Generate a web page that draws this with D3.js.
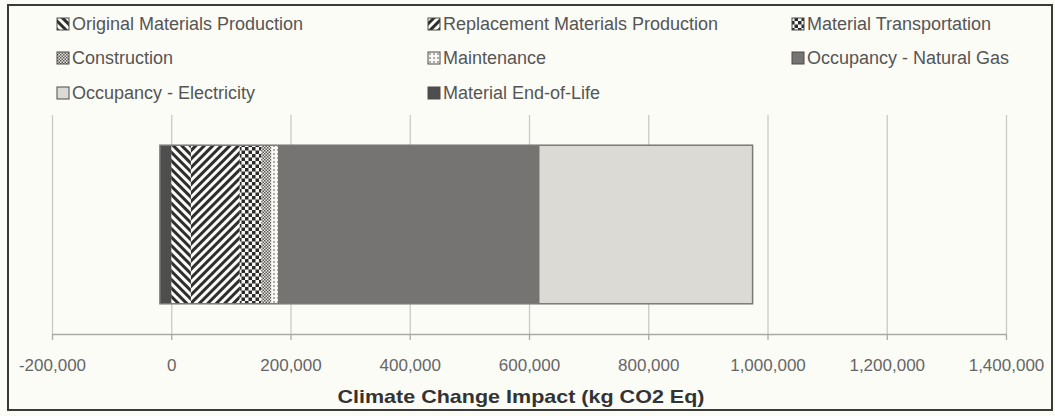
<!DOCTYPE html>
<html lang="en">
<head>
    <meta charset="UTF-8">
    <title>Climate Change Impact</title>
    <script src="https://cdnjs.cloudflare.com/ajax/libs/d3/7.8.5/d3.min.js"></script>
    <style>
        body {
            margin: 0;
            background: #fcfcf7;
            font-family: "Liberation Sans", Arial, sans-serif;
        }
    </style>
</head>
<body>
<svg id="chart"></svg>
<script>

// ---- data ----
const categories = [
    "Original Materials Production",
    "Replacement Materials Production",
    "Material Transportation",
    "Construction",
    "Maintenance",
    "Occupancy - Natural Gas",
    "Occupancy - Electricity",
    "Material End-of-Life"
];
const impacts = [33000, 82000, 36000, 17000, 11000, 439000, 357000, -19000];
const xTicks = [-200000, 0, 200000, 400000, 600000, 800000, 1000000, 1200000, 1400000];
const xLabel = "Climate Change Impact (kg CO2 Eq)";

// fill for each category (pattern ids or flat colours)
const fills = {
    "Original Materials Production": "url(#p-back)",
    "Replacement Materials Production": "url(#p-fwd)",
    "Material Transportation": "url(#p-check)",
    "Construction": "url(#p-fine)",
    "Maintenance": "url(#p-dots)",
    "Occupancy - Natural Gas": "#767473",
    "Occupancy - Electricity": "#dbdad5",
    "Material End-of-Life": "#4f4e4e"
};

const W = 1055, H = 416;
const margin = {left: 52, right: 49, top: 115, bottom: 82};

const svg = d3.select("#chart")
    .attr("width", W)
    .attr("height", H);

// patterns
const defs = svg.append("defs");

function stripes(id, angle) {
    const p = defs.append("pattern")
        .attr("id", id)
        .attr("patternUnits", "userSpaceOnUse")
        .attr("width", 6).attr("height", 6)
        .attr("patternTransform", "rotate(" + angle + ")");
    p.append("rect").attr("width", 6).attr("height", 6).attr("fill", "#fbfbf8");
    p.append("rect").attr("width", 3).attr("height", 6).attr("fill", "#2f2e2e");
}
stripes("p-back", -45);
stripes("p-fwd", 45);

function checker(id, size, dark, light) {
    const p = defs.append("pattern")
        .attr("id", id)
        .attr("patternUnits", "userSpaceOnUse")
        .attr("width", size * 2).attr("height", size * 2);
    p.append("rect").attr("width", size * 2).attr("height", size * 2).attr("fill", light);
    p.append("rect").attr("width", size).attr("height", size).attr("fill", dark);
    p.append("rect").attr("x", size).attr("y", size).attr("width", size).attr("height", size).attr("fill", dark);
}
checker("p-check", 3.5, "#2c2b2b", "#f6f6f2");
checker("p-fine", 1.5, "#5a5958", "#e8e7e2");

const dots = defs.append("pattern")
    .attr("id", "p-dots")
    .attr("patternUnits", "userSpaceOnUse")
    .attr("width", 4).attr("height", 4);
dots.append("rect").attr("width", 4).attr("height", 4).attr("fill", "#f7f7f3");
dots.append("circle").attr("cx", 2).attr("cy", 2).attr("r", 0.9).attr("fill", "#8a8988");

// outer frame
svg.append("rect")
    .attr("x", 8).attr("y", 5)
    .attr("width", 1044).attr("height", 405)
    .attr("fill", "#fcfcf7")
    .attr("stroke", "#3a3a3a")
    .attr("stroke-width", 2);

// scales
const x = d3.scaleLinear()
    .domain([xTicks[0], xTicks[xTicks.length - 1]])
    .range([margin.left, W - margin.right]);

const y = d3.scaleBand()
    .domain(["Building"])
    .range([margin.top, H - margin.bottom])
    .padding(0.16);

const locale = d3.formatLocale({decimal: ".", thousands: ",", grouping: [3], currency: ["$", ""], minus: "-"});
const fmt = locale.format(",");

// gridlines
const plotH = (H - margin.bottom) - margin.top;
svg.append("g")
    .attr("transform", "translate(0," + (H - margin.bottom) + ")")
    .call(d3.axisBottom(x).tickValues(xTicks).tickSize(-plotH).tickFormat(""))
    .call(g => g.select(".domain").remove())
    .call(g => g.selectAll("line").attr("stroke", "#c9c9c6").attr("stroke-width", 1.3));

// x axis
svg.append("g")
    .attr("transform", "translate(0," + (H - margin.bottom) + ")")
    .call(d3.axisBottom(x).tickValues(xTicks).tickSize(6).tickSizeOuter(0).tickPadding(19).tickFormat(fmt))
    .call(g => g.select(".domain").attr("stroke", "#a9a9a6").attr("stroke-width", 1.3))
    .call(g => g.selectAll("line").attr("stroke", "#a9a9a6").attr("stroke-width", 1.3))
    .call(g => g.selectAll("text")
        .attr("fill", "#666")
        .style("font-family", "'Liberation Sans', Arial, sans-serif")
        .style("font-size", "17px"));

// axis title
svg.append("text")
    .attr("x", 521)
    .attr("y", 403)
    .attr("text-anchor", "middle")
    .attr("textLength", 367)
    .attr("lengthAdjust", "spacingAndGlyphs")
    .attr("fill", "#333")
    .style("font-size", "19px")
    .style("font-weight", "bold")
    .text(xLabel);

// stacked bar (positives to the right, negatives to the left)
const row = {name: "Building"};
categories.forEach((c, i) => { row[c] = impacts[i]; });

const series = d3.stack()
    .keys(categories)
    .offset(d3.stackOffsetDiverging)([row]);

const bars = svg.append("g");
series.forEach(s => {
    bars.append("rect")
        .attr("x", x(Math.min(s[0][0], s[0][1])))
        .attr("y", y("Building"))
        .attr("width", Math.abs(x(s[0][1]) - x(s[0][0])))
        .attr("height", y.bandwidth())
        .attr("fill", fills[s.key]);
});

// bar outline
const lo = d3.min(series, s => s[0][0]);
const hi = d3.max(series, s => s[0][1]);
bars.append("rect")
    .attr("x", x(lo))
    .attr("y", y("Building"))
    .attr("width", x(hi) - x(lo))
    .attr("height", y.bandwidth())
    .attr("fill", "none")
    .attr("stroke", "#7a7978")
    .attr("stroke-width", 1.5);

// legend, 3 columns
const colX = [57, 428, 792];
const rowY = [30, 64, 99];
const legend = svg.append("g");
categories.forEach((c, i) => {
    const cx = colX[i % 3], cy = rowY[Math.floor(i / 3)];
    legend.append("rect")
        .attr("x", cx).attr("y", cy - 12)
        .attr("width", 12).attr("height", 12)
        .attr("fill", fills[c])
        .attr("stroke", "#4a4a4a")
        .attr("stroke-width", 1);
    legend.append("text")
        .attr("x", cx + 15).attr("y", cy)
        .attr("fill", "#555")
        .style("font-size", "18px")
        .text(c);
});
</script>
</body>
</html>
